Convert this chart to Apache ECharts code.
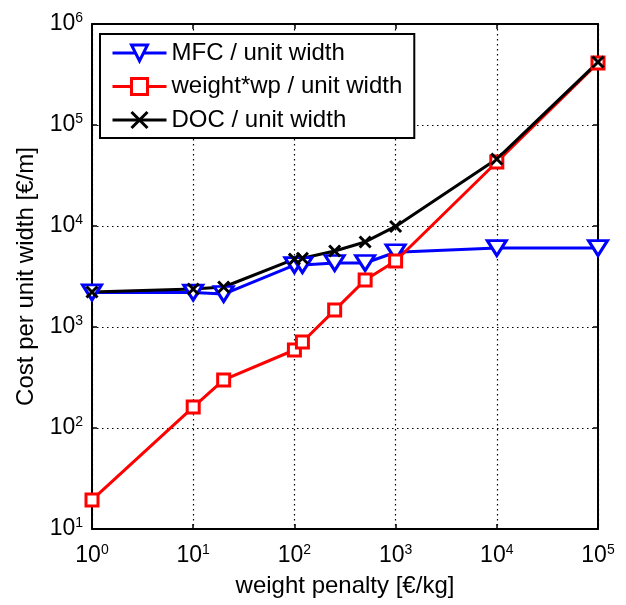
<!DOCTYPE html>
<html>
<head>
<meta charset="utf-8">
<script src="https://cdn.jsdelivr.net/npm/echarts@6/dist/echarts.min.js"></script>
<style>
  html, body { margin: 0; padding: 0; background: #fff; }
  #chart { width: 626px; height: 605px; }
</style>
</head>
<body>
<div id="chart"></div>
<script>
// Weight penalty values (x axis, €/kg)
const weightPenalty = [1, 10, 20, 100, 120, 250, 500, 1000, 10000, 100000];
// Cost per unit width (€/m) for each curve
const mfc = [2200, 2190, 2120, 4100, 4100, 4300, 4300, 5500, 6050, 6050];
const weightTimesWp = [19.4, 161, 299, 592, 711, 1470, 2920, 4500, 43000, 411000];
const doc = [2220, 2380, 2490, 4700, 4800, 5650, 6950, 9900, 46000, 420000];

const seriesNames = ['MFC / unit width', 'weight*wp / unit width', 'DOC / unit width'];

const FONT = '"Liberation Sans", Arial, Helvetica, sans-serif';

function pairs(ys) {
  return weightPenalty.map((x, i) => [x, ys[i]]);
}

// "10" with exponent as superscript
function powerLabel(v) {
  const e = Math.round(Math.log10(v));
  return '{b|10}{s|' + e + '}';
}
const tickRich = {
  b: { fontSize: 23, lineHeight: 26, color: '#000', fontFamily: FONT },
  s: { fontSize: 14, lineHeight: 14, verticalAlign: 'top', color: '#000', fontFamily: FONT }
};

const axisLine = { show: true, onZero: false, lineStyle: { color: '#000', width: 2 } };
const axisTick = { show: true, inside: true, length: 5, lineStyle: { color: '#000', width: 1.5 } };
const gridDots = { show: true, lineStyle: { color: '#000', type: [1.5, 3.5], width: 1.2 } };

const downTriangle = 'path://M0,0L20,0L10,15Z';
const cross = 'path://M0,0L10,10M10,0L0,10';

const chart = echarts.init(document.getElementById('chart'), null, { renderer: 'canvas' });

chart.setOption({
  backgroundColor: '#fff',
  animation: false,
  textStyle: { fontFamily: FONT },
  grid: { left: 92, right: 28, top: 24, bottom: 76 },
  legend: {
    orient: 'vertical',
    left: 100,
    top: 34,
    data: seriesNames,
    backgroundColor: '#fff',
    borderColor: '#000',
    borderWidth: 2,
    borderRadius: 0,
    padding: [7, 12, 6, 11],
    itemWidth: 54,
    itemHeight: 20,
    itemGap: 9.5,
    lineStyle: { width: 3 },
    itemStyle: { borderWidth: 3 },
    textStyle: { fontSize: 24, lineHeight: 24, color: '#000', fontFamily: FONT }
  },
  xAxis: [
    {
      type: 'log', logBase: 10, min: 1, max: 100000,
      position: 'bottom',
      name: 'weight penalty [€/kg]',
      nameLocation: 'middle',
      nameGap: 45,
      nameTextStyle: { fontSize: 24, color: '#000', fontFamily: FONT },
      axisLine: axisLine,
      axisTick: axisTick,
      splitLine: gridDots,
      axisLabel: { formatter: powerLabel, rich: tickRich, margin: 14 }
    },
    {
      type: 'log', logBase: 10, min: 1, max: 100000,
      position: 'top',
      axisLine: axisLine,
      axisTick: axisTick,
      splitLine: { show: false },
      axisLabel: { show: false }
    }
  ],
  yAxis: [
    {
      type: 'log', logBase: 10, min: 10, max: 1000000,
      position: 'left',
      name: 'Cost per unit width [€/m]',
      nameLocation: 'middle',
      nameGap: 53,
      nameRotate: 90,
      nameTextStyle: { fontSize: 24, color: '#000', fontFamily: FONT },
      axisLine: axisLine,
      axisTick: axisTick,
      splitLine: gridDots,
      axisLabel: { formatter: powerLabel, rich: tickRich, margin: 9 }
    },
    {
      type: 'log', logBase: 10, min: 10, max: 1000000,
      position: 'right',
      axisLine: axisLine,
      axisTick: axisTick,
      splitLine: { show: false },
      axisLabel: { show: false }
    }
  ],
  series: [
    {
      name: seriesNames[0],
      type: 'line',
      data: pairs(mfc),
      clip: false,
      symbol: downTriangle,
      symbolSize: [19, 15],
      lineStyle: { color: '#0000ff', width: 3 },
      itemStyle: { color: '#ffffff', borderColor: '#0000ff', borderWidth: 3 }
    },
    {
      name: seriesNames[1],
      type: 'line',
      data: pairs(weightTimesWp),
      clip: false,
      symbol: 'rect',
      symbolSize: 12,
      lineStyle: { color: '#ff0000', width: 3 },
      itemStyle: { color: '#ffffff', borderColor: '#ff0000', borderWidth: 3 }
    },
    {
      name: seriesNames[2],
      type: 'line',
      data: pairs(doc),
      clip: false,
      symbol: cross,
      symbolSize: 11,
      lineStyle: { color: '#000000', width: 3 },
      itemStyle: { color: '#000000', borderColor: '#000000', borderWidth: 3 }
    }
  ]
});
</script>
</body>
</html>
